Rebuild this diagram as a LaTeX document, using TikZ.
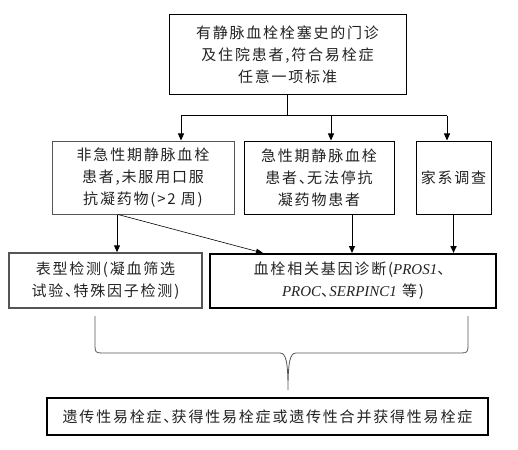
\documentclass[tikz,border=0pt]{standalone}
\usepackage{fontspec}
\setmainfont{Noto Sans CJK SC}[LetterSpace=12]
\newfontfamily\lat{Liberation Serif}
\usetikzlibrary{arrows.meta}
\definecolor{txt}{HTML}{222222}
\definecolor{gb}{HTML}{555555}
\newcommand{\dun}{、\kern-0.45em}
\tikzset{
  box/.style={draw=black, line width=1pt, inner sep=0pt, align=center, text=txt,
    font=\fontsize{15}{22}\selectfont},
  thickbox/.style={box, line width=2pt},
  arr/.style={line width=1pt, -{Triangle[length=7pt,width=6pt]}},
}
\begin{document}
\begin{tikzpicture}[x=1pt,y=-1pt]
\useasboundingbox (0,0) rectangle (518,449);
\node[box, minimum width=237pt, minimum height=80pt] (top) at (287.5,55)
  {有静脉血栓栓塞史的门诊\\及住院患者,符合易栓症\\任意一项标准};
\node[box, draw=gb, minimum width=182pt, minimum height=73pt] (n1) at (143,177.5)
  {非急性期静脉血栓\\患者,未服用口服\\抗凝药物(>2 周)};
\node[box, minimum width=150pt, minimum height=73pt] (n2) at (319,177.5)
  {急性期静脉血栓\\患者\dun 无法停抗\\凝药物患者};
\node[box, minimum width=75pt, minimum height=73pt] (n3) at (453.5,177.5)
  {家系调查};
\node[box, draw=gb, line width=1.5pt, minimum width=193pt, minimum height=55pt] (nA) at (105.5,280.5)
  {表型检测(凝血筛选\\试验\dun 特殊因子检测)};
\node[thickbox, minimum width=286pt, minimum height=54pt] (nB) at (353,281)
  {血栓相关基因诊断({\lat\itshape PROS1}、\\{\lat\itshape PROC}\dun {\lat\itshape SERPINC1} 等)};
\node[thickbox, minimum width=441pt, minimum height=37pt] (bot) at (267.5,416.5)
  {遗传性易栓症\dun 获得性易栓症或遗传性合并获得性易栓症};

\coordinate (hl) at (181,116);
\coordinate (hm) at (331,116);
\coordinate (hr) at (447,116);
\draw[line width=1pt] (top.south) -- (top.south |- hl);
\draw[line width=1pt] (hl) -- (hr);
\draw[arr] (hl) -- (hl |- n1.north);
\draw[arr] (hm) -- (hm |- n2.north);
\draw[arr] (hr) -- (hr |- n3.north);

\draw[arr] ([xshift=-26pt]n1.south) -- ([xshift=-26pt]n1.south |- nA.north);
\draw[line width=0.6pt, -{Triangle[length=7pt,width=5pt]}] ([xshift=-25pt]n1.south) -- ([xshift=-90pt]nB.north);
\draw[arr] ([xshift=33pt]n2.south) -- ([xshift=33pt]n2.south |- nB.north);
\draw[arr, line width=1.6pt] (n3.south) -- (n3.south |- nB.north);

\draw[gb, line width=0.8pt] (95,316) -- (95,346) .. controls (95,352) and (96,353) .. (102,353)
  -- (280,353) .. controls (286,353) and (288,362) .. (288,390)
  .. controls (288,362) and (290,353) .. (296,353)
  -- (461,353) .. controls (467,353) and (468,352) .. (468,346) -- (468,316);
\end{tikzpicture}
\end{document}
